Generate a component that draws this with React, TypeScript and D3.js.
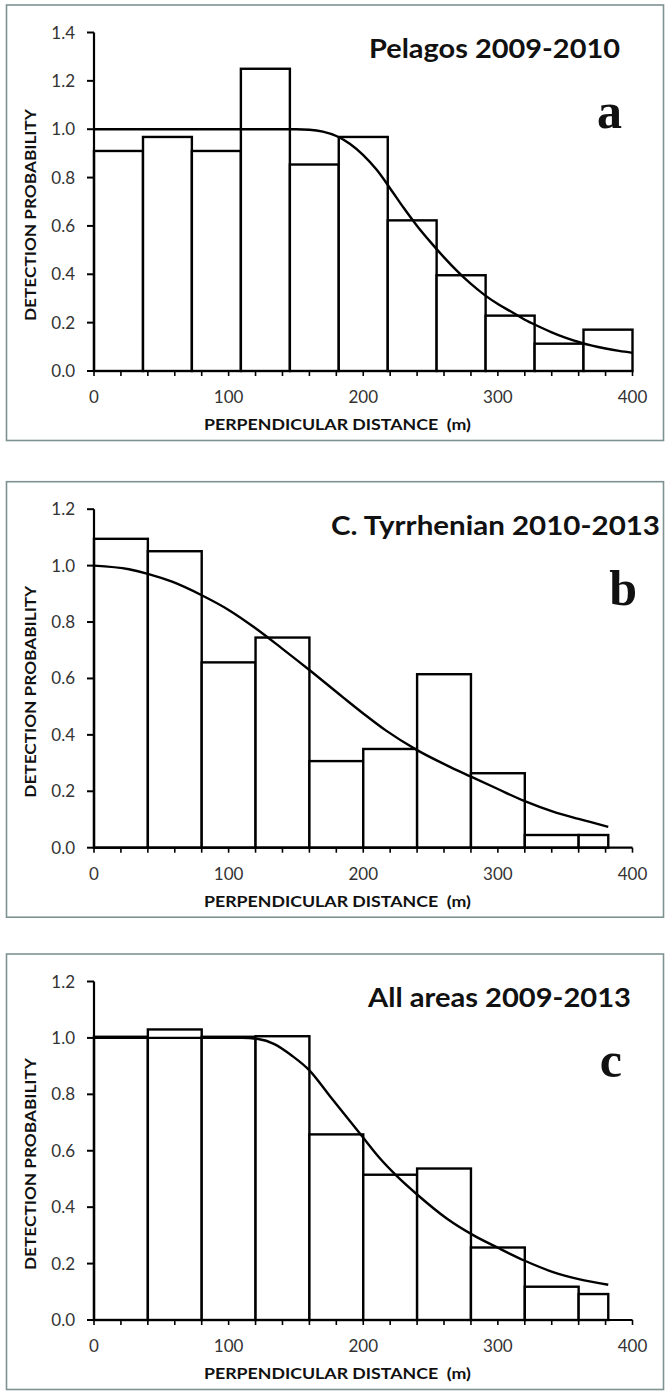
import * as d3 from "d3";

// panel a: Pelagos 2009-2010
const edgesA = [0, 36.4, 72.7, 109.1, 145.5, 181.8, 218.2, 254.5, 290.9, 327.3, 363.6, 400];
const barsA = [0.91, 0.968, 0.91, 1.25, 0.854, 0.968, 0.623, 0.396, 0.229, 0.113, 0.171];
const curveA: [number, number][] = [
  [0, 1], [100, 1], [150, 1], [160, 0.998], [170, 0.99], [180, 0.972], [190, 0.94], [200, 0.893],
  [210, 0.832], [220, 0.755], [230, 0.675], [240, 0.6], [250, 0.533], [260, 0.47], [270, 0.412],
  [280, 0.36], [290, 0.315], [300, 0.277], [310, 0.245], [320, 0.212], [330, 0.185], [340, 0.16],
  [350, 0.138], [360, 0.12], [370, 0.105], [380, 0.093], [390, 0.083], [400, 0.075],
];

// panel b: C. Tyrrhenian 2010-2013
const edgesB = [0, 40, 80, 120, 160, 200, 240, 280, 320, 360, 382];
const barsB = [1.095, 1.051, 0.657, 0.745, 0.307, 0.35, 0.615, 0.264, 0.045, 0.045];
const curveB: [number, number][] = [
  [0, 1], [26, 0.987], [40, 0.971], [58, 0.943], [80, 0.895], [100, 0.843], [120, 0.778], [140, 0.705],
  [160, 0.63], [185, 0.533], [200, 0.476], [217, 0.415], [240, 0.346], [262, 0.292], [280, 0.252],
  [300, 0.208], [320, 0.165], [341, 0.128], [360, 0.102], [382, 0.074],
];

// panel c: All areas 2009-2013
const edgesC = [0, 40, 80, 120, 160, 200, 240, 280, 320, 360, 382];
const barsC = [1.004, 1.03, 1.004, 1.006, 0.658, 0.515, 0.537, 0.257, 0.118, 0.092];
const curveC: [number, number][] = [
  [0, 1], [110, 1], [122, 0.996], [134, 0.978], [147, 0.937], [160, 0.885], [175, 0.795], [199, 0.652],
  [212, 0.575], [225, 0.51], [240, 0.445], [262, 0.36], [282, 0.3], [300, 0.256],
  [320, 0.21], [341, 0.17], [360, 0.145], [382, 0.125],
];

const xTickLabels = [0, 100, 200, 300, 400];
const yTicksA = [0, 0.2, 0.4, 0.6, 0.8, 1.0, 1.2, 1.4];
const yTicksBC = [0, 0.2, 0.4, 0.6, 0.8, 1.0, 1.2];

const W = 671;
const H = 1395;
const font = "Lato, 'Open Sans', sans-serif";

interface PanelProps {
  top: number;
  title: string;
  titleX0: number;
  titleX1: number;
  letter: string;
  letterX: number;
  edges: number[];
  bars: number[];
  curve: [number, number][];
  yTicks: number[];
}

function Panel({ top, title, titleX0, titleX1, letter, letterX, edges, bars, curve, yTicks }: PanelProps) {
  const yMax = yTicks[yTicks.length - 1];
  const x = d3.scaleLinear().domain([0, 400]).range([94, 632.5]);
  const y = d3.scaleLinear().domain([0, yMax]).range([top + 366, top + 27.5]);
  const line = d3
    .line<[number, number]>()
    .x((d) => x(d[0]))
    .y((d) => y(d[1]))
    .curve(d3.curveMonotoneX);
  const minorTicks = d3.range(0, 401, 20);

  return (
    <g>
      <rect x={6.5} y={top} width={657} height={435.5} fill="white" stroke="#7f9292" strokeWidth={1.6} />
      {bars.map((v, i) => (
        <rect
          key={i}
          x={x(edges[i])}
          y={y(v)}
          width={x(edges[i + 1]) - x(edges[i])}
          height={y(0) - y(v)}
          fill="white"
          stroke="black"
          strokeWidth={2.4}
        />
      ))}
      <path d={line(curve) ?? ""} fill="none" stroke="black" strokeWidth={2.4} />
      {/* axes */}
      <line x1={x(0)} x2={x(0)} y1={y(yMax)} y2={y(0)} stroke="black" strokeWidth={2.2} />
      <line x1={x(0)} x2={x(400)} y1={y(0)} y2={y(0)} stroke="black" strokeWidth={2.2} />
      {yTicks.map((t) => (
        <g key={t}>
          <line x1={x(0) - 7} x2={x(0)} y1={y(t)} y2={y(t)} stroke="black" strokeWidth={2} />
          <text x={75} y={y(t) + 6} textAnchor="end" fontFamily={font} fontSize={17} fill="#333">
            {t.toFixed(1)}
          </text>
        </g>
      ))}
      {minorTicks.map((t) => (
        <line key={t} x1={x(t)} x2={x(t)} y1={y(0)} y2={y(0) + 5} stroke="black" strokeWidth={1.6} />
      ))}
      {xTickLabels.map((t) => (
        <text key={t} x={x(t)} y={top + 398} textAnchor="middle" fontFamily={font} fontSize={17} fill="#333">
          {t}
        </text>
      ))}
      <text
        x={204}
        y={top + 425}
        fontFamily={font}
        fontWeight={700}
        fontSize={15}
        fill="#111"
        textLength={267}
        lengthAdjust="spacingAndGlyphs"
        style={{ whiteSpace: "pre" }}
      >
        {"PERPENDICULAR DISTANCE  (m)"}
      </text>
      <text
        transform={`translate(36,${top + 210}) rotate(-90)`}
        textAnchor="middle"
        fontFamily={font}
        fontWeight={700}
        fontSize={15}
        fill="#111"
        textLength={212}
        lengthAdjust="spacingAndGlyphs"
      >
        DETECTION PROBABILITY
      </text>
      <text
        x={titleX0}
        y={top + 53}
        fontFamily={font}
        fontWeight={700}
        fontSize={27}
        fill="#111"
        textLength={titleX1 - titleX0}
        lengthAdjust="spacingAndGlyphs"
      >
        {title}
      </text>
      <text
        x={letterX}
        y={top + 123}
        textAnchor="end"
        fontFamily="'Liberation Serif', 'DejaVu Serif', serif"
        fontWeight={700}
        fontSize={50}
        fill="#111"
      >
        {letter}
      </text>
    </g>
  );
}

export default function App() {
  return (
    <div style={{ position: "absolute", left: 0, top: 0 }}>
      <svg width={W} height={H} style={{ display: "block", background: "white" }}>
        <Panel
          top={5}
          title="Pelagos 2009-2010"
          titleX0={369}
          titleX1={620}
          letter="a"
          letterX={622}
          edges={edgesA}
          bars={barsA}
          curve={curveA}
          yTicks={yTicksA}
        />
        <Panel
          top={481.7}
          title="C. Tyrrhenian 2010-2013"
          titleX0={331}
          titleX1={660}
          letter="b"
          letterX={637}
          edges={edgesB}
          bars={barsB}
          curve={curveB}
          yTicks={yTicksBC}
        />
        <Panel
          top={954}
          title="All areas 2009-2013"
          titleX0={368}
          titleX1={631}
          letter="c"
          letterX={622}
          edges={edgesC}
          bars={barsC}
          curve={curveC}
          yTicks={yTicksBC}
        />
      </svg>
    </div>
  );
}
